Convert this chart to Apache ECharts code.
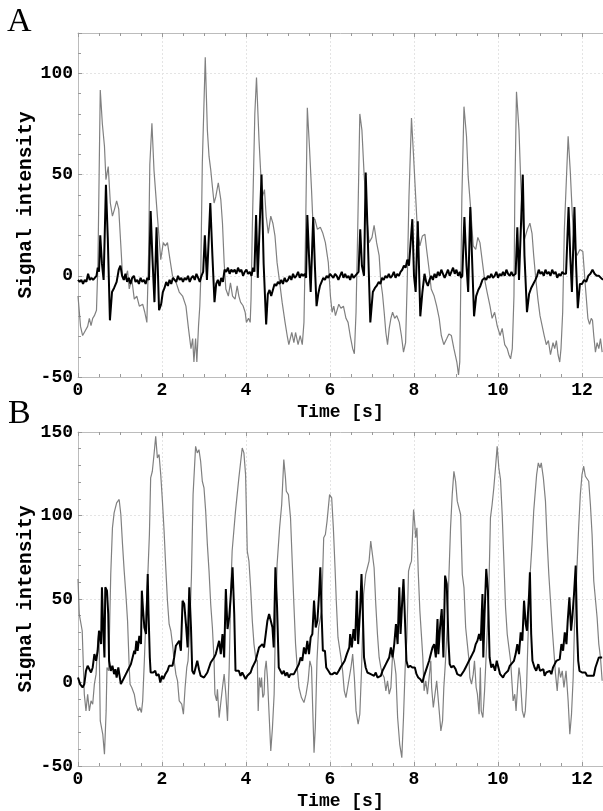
<!DOCTYPE html>
<html>
<head>
<meta charset="utf-8">
<script src="https://cdn.jsdelivr.net/npm/echarts@6/dist/echarts.min.js"></script>
<style>
html,body{margin:0;padding:0;background:#fff;}
#c{width:603px;height:811px;}
</style>
</head>
<body>
<div id="c"></div>
<script>
// Panel A, gray trace [time s, signal]
const panelAGray = [[0,-10],[0.06,-25],[0.11,-29.5],[0.15,-28],[0.19,-28.7],[0.23,-25],[0.27,-21],[0.31,-24.6],[0.35,-21],[0.39,-19.7],[0.44,-17],[0.475,6.5],[0.53,91.8],[0.58,75],[0.63,64],[0.665,47.5],[0.72,54],[0.77,36],[0.82,29.5],[0.87,33],[0.92,37],[0.97,33],[1.02,15],[1.06,0],[1.12,-2],[1.18,2.5],[1.22,-6.5],[1.28,-1.5],[1.34,-11.5],[1.40,-10],[1.46,-15],[1.54,-14],[1.59,-18],[1.64,-23],[1.68,10],[1.71,55],[1.76,75.4],[1.81,52],[1.89,29.5],[1.97,8],[2.03,16.4],[2.08,14.8],[2.13,16.4],[2.19,8],[2.25,0],[2.33,-3],[2.41,-8],[2.49,-10],[2.57,-15],[2.63,-26],[2.69,-36],[2.73,-31],[2.76,-42.6],[2.80,-31],[2.83,-42.6],[2.87,-24.6],[2.9,-15],[2.92,-3],[2.96,55.7],[3.03,108],[3.08,72],[3.12,59],[3.16,52.5],[3.20,44],[3.24,36],[3.28,39],[3.34,46],[3.40,37.7],[3.44,26],[3.48,6.5],[3.52,-6.5],[3.58,-10],[3.63,-3.5],[3.68,-10],[3.74,-11.5],[3.79,-5],[3.83,-10],[3.87,-13],[3.93,-14.8],[3.98,-18],[4.01,-23],[4.06,-21],[4.10,-23],[4.12,-11.5],[4.15,23],[4.21,80],[4.25,98],[4.31,67],[4.35,51],[4.39,39],[4.44,42.6],[4.48,29.5],[4.53,21],[4.59,29.5],[4.64,26],[4.69,19.7],[4.74,6.5],[4.80,-3],[4.86,-13],[4.93,-23],[4.98,-29.5],[5.02,-34],[5.09,-28],[5.14,-33],[5.18,-28],[5.24,-34],[5.29,-29.5],[5.34,-34],[5.38,-23],[5.42,23],[5.46,83],[5.51,64],[5.56,42.6],[5.59,28],[5.64,28],[5.70,23],[5.77,24],[5.83,21],[5.89,16.4],[5.96,6.5],[6.01,-10],[6.05,-18],[6.09,-15],[6.13,-19.7],[6.21,-14],[6.26,-16],[6.32,-15],[6.38,-21],[6.43,-23],[6.48,-29.5],[6.54,-36],[6.58,-38.5],[6.62,-18],[6.66,23],[6.71,80],[6.76,72],[6.81,51],[6.88,28],[6.93,16.4],[7.0,19],[7.05,25],[7.11,16.4],[7.17,10],[7.21,-3],[7.25,-9],[7.29,-18],[7.33,-28],[7.37,-34],[7.41,-26],[7.45,-21],[7.49,-18],[7.54,-21],[7.59,-19.7],[7.65,-23],[7.70,-29.5],[7.75,-37.7],[7.80,-33],[7.84,-1.6],[7.88,39],[7.94,78],[7.99,59],[8.04,39],[8.08,23],[8.14,14.8],[8.20,19.7],[8.26,20.5],[8.30,13],[8.36,3],[8.41,-6.5],[8.48,-10],[8.54,-15],[8.60,-21],[8.65,-29.5],[8.71,-34],[8.78,-31],[8.83,-28.7],[8.89,-29.5],[8.95,-36],[9.02,-42.6],[9.06,-49],[9.09,-42.6],[9.11,-10],[9.14,39],[9.19,83.6],[9.25,69],[9.29,49],[9.35,33],[9.41,14.8],[9.47,13],[9.52,19],[9.57,16.4],[9.63,6.5],[9.68,-1.6],[9.74,-8],[9.81,-15],[9.86,-21],[9.92,-18],[9.98,-24.6],[10.05,-29.5],[10.1,-26],[10.16,-34],[10.22,-36],[10.26,-39],[10.3,-41],[10.34,-36],[10.38,-10],[10.40,39],[10.44,91],[10.5,72],[10.54,47.5],[10.58,29.5],[10.63,18],[10.7,23],[10.76,26],[10.81,21],[10.85,10],[10.9,-1.6],[10.95,-11.5],[11.0,-19.7],[11.05,-24.6],[11.1,-29.5],[11.15,-34],[11.2,-32],[11.25,-39],[11.31,-33],[11.35,-36],[11.39,-32],[11.43,-39],[11.47,-42.6],[11.5,-36],[11.54,-18],[11.58,23],[11.67,69],[11.72,52],[11.77,30],[11.82,14],[11.88,10],[11.95,13],[12.02,12],[12.08,-5],[12.14,-21],[12.18,-24],[12.22,-21],[12.25,-22],[12.28,-29.5],[12.32,-37.7],[12.36,-33],[12.4,-36],[12.44,-31],[12.48,-37.7]];

// Panel A, black trace
const panelABlack = [[0,-2],[0.04,-3],[0.08,-2],[0.12,-4],[0.16,-2],[0.2,-3],[0.24,1],[0.28,-2],[0.32,-1],[0.36,-2],[0.4,-1],[0.44,0],[0.47,4],[0.5,2],[0.53,20],[0.57,6],[0.61,-2],[0.665,45],[0.71,18],[0.76,-22],[0.81,-8],[0.86,-6],[0.92,-3],[0.97,3],[1.01,5],[1.05,0],[1.09,-2],[1.13,1],[1.17,-3],[1.21,-1],[1.25,-4],[1.29,-1],[1.33,0],[1.37,-3],[1.41,-2],[1.45,-4],[1.49,-1],[1.53,-3],[1.57,-2],[1.61,-4],[1.65,-1],[1.69,-2],[1.73,32],[1.77,10],[1.82,-13],[1.87,24],[1.93,-17],[1.98,-14],[2.02,-8],[2.06,-6],[2.1,-3],[2.14,-5],[2.18,-2],[2.22,-4],[2.26,-1],[2.3,-2],[2.34,-3],[2.38,0],[2.42,-2],[2.46,-1],[2.5,-3],[2.54,-1],[2.58,-2],[2.62,0],[2.66,-3],[2.7,-1],[2.74,0],[2.78,-2],[2.82,1],[2.86,-1],[2.9,-3],[2.94,0],[2.98,2],[3.02,20],[3.07,-2],[3.15,36],[3.2,10],[3.25,-13],[3.29,-4],[3.33,-2],[3.37,-5],[3.41,-1],[3.45,-3],[3.49,3],[3.53,2],[3.57,4],[3.61,1],[3.65,3],[3.69,2],[3.73,3],[3.77,1],[3.81,4],[3.85,2],[3.89,3],[3.93,0],[3.97,2],[4.01,3],[4.05,1],[4.09,2],[4.13,0],[4.17,4],[4.2,2],[4.24,30],[4.28,-1],[4.37,50],[4.42,6],[4.48,-24],[4.52,-9],[4.56,-7],[4.6,-10],[4.64,-7],[4.68,-4],[4.72,-5],[4.76,-3],[4.8,-4],[4.84,-2],[4.88,-4],[4.92,-1],[4.96,-3],[5.0,-2],[5.04,0],[5.08,-2],[5.12,1],[5.16,-1],[5.2,0],[5.24,2],[5.28,-1],[5.32,1],[5.36,0],[5.4,1],[5.43,-1],[5.46,30],[5.5,10],[5.54,-8],[5.6,29],[5.64,5],[5.68,-15],[5.72,-9],[5.76,-5],[5.8,-3],[5.84,-1],[5.88,-2],[5.92,0],[5.96,-1],[6.0,1],[6.04,0],[6.08,-1],[6.12,1],[6.16,0],[6.2,-2],[6.24,0],[6.28,2],[6.32,-1],[6.36,1],[6.4,-1],[6.44,0],[6.48,-2],[6.52,1],[6.56,-1],[6.6,0],[6.64,1],[6.68,2],[6.72,23],[6.76,5],[6.81,0],[6.85,51],[6.89,25],[6.96,-23],[7.02,-8],[7.07,-6],[7.11,-5],[7.16,-3],[7.2,-4],[7.24,-1],[7.28,-2],[7.32,0],[7.36,-1],[7.4,1],[7.44,-1],[7.48,0],[7.52,2],[7.56,-1],[7.6,1],[7.64,0],[7.68,2],[7.72,3],[7.76,5],[7.8,4],[7.84,8],[7.88,5],[7.96,28],[8.0,0],[8.04,-8],[8.09,27],[8.15,-20],[8.2,-8],[8.25,1],[8.29,-3],[8.33,-5],[8.37,-2],[8.41,0],[8.45,-2],[8.49,1],[8.53,-1],[8.57,2],[8.61,0],[8.65,3],[8.69,1],[8.73,-1],[8.77,1],[8.81,3],[8.85,0],[8.89,2],[8.93,4],[8.97,1],[9.01,3],[9.05,0],[9.09,2],[9.12,-1],[9.15,0],[9.2,29],[9.25,5],[9.29,-8],[9.34,34],[9.38,10],[9.43,-20],[9.48,-10],[9.53,-7],[9.58,-5],[9.63,-2],[9.68,-1],[9.72,-2],[9.76,0],[9.8,-1],[9.84,1],[9.88,-1],[9.92,0],[9.96,2],[10.0,-1],[10.04,1],[10.08,0],[10.12,2],[10.16,0],[10.2,3],[10.24,1],[10.28,0],[10.32,2],[10.36,0],[10.42,1],[10.46,24],[10.5,-2],[10.59,50],[10.63,10],[10.69,-18],[10.74,-9],[10.79,-6],[10.84,-4],[10.89,-2],[10.93,0],[10.97,3],[11.01,1],[11.05,2],[11.09,0],[11.13,3],[11.17,1],[11.21,2],[11.25,0],[11.29,3],[11.33,1],[11.37,2],[11.41,-1],[11.45,1],[11.49,0],[11.53,2],[11.57,1],[11.62,1],[11.68,34],[11.72,10],[11.76,-8],[11.82,34],[11.86,5],[11.9,-16],[11.95,-4],[12.0,-4],[12.05,-2],[12.1,-3],[12.15,0],[12.2,1],[12.25,3],[12.3,1],[12.35,0],[12.4,0],[12.45,-1],[12.5,-2]];

// Panel B, gray trace
const panelBGray = [[0,62],[0.03,41],[0.1,31],[0.15,-7],[0.19,-17],[0.23,-7],[0.27,-17],[0.31,-11],[0.35,-13],[0.39,-1],[0.43,5],[0.47,25],[0.5,31],[0.53,-23],[0.59,-31],[0.63,-43],[0.67,-17],[0.69,9],[0.73,7],[0.78,65],[0.82,92.6],[0.86,101.6],[0.92,107.6],[0.98,109.6],[1.02,100.6],[1.06,82.7],[1.1,66.7],[1.14,52.8],[1.18,36.9],[1.22,9],[1.24,-1],[1.28,-3],[1.34,-7],[1.38,-13],[1.43,-17],[1.47,-15],[1.51,-18],[1.54,-11],[1.58,13],[1.62,41],[1.66,62.7],[1.7,88.6],[1.73,122.5],[1.77,126.5],[1.81,136.5],[1.85,147.4],[1.89,134.5],[1.93,136.5],[1.97,124.5],[2.01,108.6],[2.05,90.6],[2.09,68.7],[2.13,48.8],[2.17,34.9],[2.21,31],[2.25,23],[2.29,13],[2.33,5],[2.37,1],[2.41,-11],[2.47,-13],[2.51,-19],[2.55,-3],[2.59,9],[2.62,13],[2.66,33],[2.7,62.7],[2.74,112.5],[2.8,141.4],[2.84,137.5],[2.88,139.4],[2.92,132.5],[2.96,120.5],[3.0,116.5],[3.04,102.6],[3.08,82.7],[3.12,66.7],[3.16,46.8],[3.2,32.9],[3.24,13],[3.26,-7],[3.3,-11],[3.32,-4],[3.36,-21],[3.4,-21],[3.44,-3],[3.48,5],[3.52,-7],[3.56,-23],[3.6,9],[3.64,56.8],[3.67,78.7],[3.75,102.6],[3.83,122.5],[3.91,140.4],[3.95,137.5],[3.99,124.5],[4.03,78.7],[4.07,72.7],[4.11,56.8],[4.15,36.9],[4.19,23],[4.23,15],[4.27,13],[4.29,-17],[4.32,3],[4.35,-3],[4.37,3],[4.4,-9],[4.43,-7],[4.45,7],[4.48,13],[4.51,3],[4.55,-19],[4.59,-41],[4.63,-27],[4.67,-7],[4.7,33],[4.74,70.7],[4.8,92.6],[4.85,106.6],[4.9,133.5],[4.94,122.5],[4.96,114.5],[5.01,112.5],[5.06,98.6],[5.1,72.7],[5.14,46.8],[5.18,23],[5.22,9],[5.26,-3],[5.32,-9],[5.38,-12],[5.43,-7],[5.48,1],[5.52,13],[5.56,9],[5.59,-17],[5.62,-42],[5.65,-27],[5.69,13],[5.73,33],[5.8,42.8],[5.85,86.7],[5.89,88.6],[5.93,96.6],[5.99,112.5],[6.04,110.6],[6.08,92.6],[6.12,68.7],[6.15,48.8],[6.19,27],[6.26,15],[6.3,7],[6.34,-5],[6.38,-9],[6.42,-3],[6.46,-3],[6.5,9],[6.54,17],[6.58,3],[6.62,-17],[6.67,-25],[6.71,-19],[6.75,7],[6.8,52.8],[6.85,64.7],[6.89,68.7],[6.93,72.7],[6.97,84.7],[7.01,83.7],[7.05,68.7],[7.09,46.8],[7.13,28.9],[7.17,15],[7.21,9],[7.25,5],[7.29,3],[7.33,-5],[7.37,1],[7.41,-7],[7.45,-3],[7.49,17],[7.53,13],[7.57,5],[7.61,-21],[7.66,-37],[7.71,-45],[7.75,-21],[7.79,9],[7.83,27],[7.87,66.7],[7.91,70.7],[7.94,72.7],[7.99,103.6],[8.02,94.6],[8.04,86.7],[8.07,92.6],[8.1,66.7],[8.14,42.8],[8.18,27],[8.21,15],[8.24,-5],[8.28,1],[8.32,-7],[8.36,3],[8.4,13],[8.42,-3],[8.46,-15],[8.5,-7],[8.54,1],[8.6,-17],[8.64,-29],[8.68,-23],[8.71,-3],[8.75,13],[8.79,33],[8.83,62.7],[8.87,92.6],[8.91,112.5],[8.95,126.5],[8.99,120.5],[9.03,108.6],[9.07,104.6],[9.11,100.6],[9.15,64.7],[9.19,56.8],[9.23,32.9],[9.27,23],[9.31,13],[9.33,3],[9.37,-1],[9.41,5],[9.44,13],[9.48,-3],[9.51,-7],[9.55,-19],[9.58,9],[9.6,-17],[9.64,-21],[9.68,-5],[9.73,23],[9.78,52.8],[9.82,98.6],[9.86,106.6],[9.9,116.5],[9.94,128.5],[9.98,141.4],[10.02,128.5],[10.06,121.5],[10.1,100.6],[10.14,72.7],[10.18,44.8],[10.22,28.9],[10.26,20.9],[10.3,13],[10.34,-3],[10.36,-11],[10.4,-7],[10.43,-17],[10.47,-1],[10.5,9],[10.53,3],[10.58,-17],[10.62,-21],[10.65,-17],[10.68,-3],[10.71,23],[10.76,62.7],[10.81,82.7],[10.85,102.6],[10.92,124.5],[10.96,131.5],[11.0,128.5],[11.03,131.5],[11.08,122.5],[11.13,108.6],[11.17,84.7],[11.21,64.7],[11.25,48.8],[11.29,32.9],[11.33,18.9],[11.37,5],[11.41,-5],[11.45,9],[11.49,3],[11.53,7],[11.57,-3],[11.62,7],[11.67,-11],[11.71,-31],[11.75,-19],[11.79,3],[11.82,33],[11.87,62.7],[11.92,92.6],[11.96,112.5],[12.0,124.5],[12.04,129.5],[12.08,123.5],[12.12,123.5],[12.16,120.5],[12.2,106.6],[12.24,88.6],[12.28,60.8],[12.32,61.8],[12.36,38.8],[12.4,23],[12.44,15],[12.48,1]];

// Panel B, black trace
const panelBBlack = [[0,3],[0.05,-1],[0.11,-3],[0.15,-1],[0.19,7],[0.23,10],[0.27,9],[0.31,6],[0.35,9],[0.39,17],[0.43,13],[0.47,19],[0.5,31],[0.55,23],[0.57,57],[0.6,33],[0.63,15],[0.65,57],[0.69,55],[0.72,41],[0.74,13],[0.78,7],[0.82,10],[0.86,5],[0.89,8],[0.92,3],[0.96,9],[0.99,4],[1.02,-1],[1.06,1],[1.1,3],[1.14,5],[1.18,7],[1.22,9],[1.26,11],[1.3,15],[1.34,19],[1.36,17],[1.39,25],[1.42,19],[1.46,28],[1.5,23],[1.52,55],[1.55,43],[1.58,33],[1.62,29],[1.66,65],[1.68,41],[1.71,15],[1.73,6],[1.79,6],[1.84,7],[1.87,4],[1.92,5],[1.96,0],[2.0,4],[2.03,2],[2.08,5],[2.13,7],[2.17,10],[2.21,9],[2.25,10],[2.29,15],[2.33,22],[2.37,21],[2.41,25],[2.45,19],[2.49,49],[2.53,47],[2.57,35],[2.61,21],[2.65,57],[2.69,33],[2.72,7],[2.76,5],[2.8,6],[2.84,13],[2.88,8],[2.92,4],[2.96,3],[3.0,3],[3.04,4],[3.08,6],[3.12,9],[3.16,12],[3.2,13],[3.24,15],[3.28,17],[3.32,21],[3.36,25],[3.4,17],[3.44,29],[3.48,15],[3.52,56],[3.56,32],[3.6,39],[3.64,53],[3.68,69],[3.72,41],[3.75,7],[3.79,7],[3.83,7],[3.87,4],[3.91,6],[3.95,4],[3.99,2],[4.03,4],[4.07,5],[4.11,6],[4.15,9],[4.19,11],[4.23,13],[4.27,17],[4.31,21],[4.35,22],[4.39,23],[4.43,21],[4.47,29],[4.51,37],[4.55,41],[4.59,42],[4.63,33],[4.66,21],[4.7,69],[4.74,45],[4.78,9],[4.82,7],[4.86,5],[4.9,7],[4.94,4],[4.98,6],[5.02,3],[5.06,5],[5.1,4],[5.14,5],[5.18,6],[5.22,9],[5.26,11],[5.3,15],[5.34,13],[5.38,21],[5.42,17],[5.46,25],[5.5,17],[5.54,27],[5.58,29],[5.62,49],[5.66,33],[5.7,37],[5.74,53],[5.77,69],[5.8,41],[5.83,19],[5.88,19],[5.91,9],[5.96,7],[6.01,5],[6.06,5],[6.11,6],[6.16,5],[6.21,7],[6.25,9],[6.3,11],[6.35,13],[6.4,17],[6.46,21],[6.48,29],[6.52,21],[6.56,32],[6.6,25],[6.64,55],[6.67,23],[6.72,45],[6.75,65],[6.78,43],[6.81,15],[6.85,9],[6.89,6],[6.93,7],[6.97,5],[7.01,6],[7.05,4],[7.09,6],[7.13,3],[7.17,4],[7.21,4],[7.25,7],[7.29,9],[7.33,11],[7.37,13],[7.41,15],[7.45,21],[7.49,15],[7.53,23],[7.57,35],[7.61,23],[7.65,57],[7.68,29],[7.72,49],[7.75,62],[7.78,61],[7.82,13],[7.86,9],[7.91,10],[7.96,9],[8.02,9],[8.06,5],[8.1,3],[8.15,2],[8.2,0],[8.24,4],[8.28,7],[8.32,7],[8.36,13],[8.4,17],[8.44,21],[8.48,23],[8.52,15],[8.56,38],[8.58,17],[8.62,33],[8.66,44],[8.7,15],[8.74,64],[8.78,59],[8.82,25],[8.85,11],[8.89,9],[8.94,10],[8.99,8],[9.03,5],[9.07,6],[9.11,4],[9.15,5],[9.19,7],[9.23,9],[9.27,11],[9.31,13],[9.35,15],[9.39,17],[9.43,19],[9.47,23],[9.51,25],[9.55,29],[9.59,25],[9.63,53],[9.65,15],[9.68,41],[9.72,68],[9.76,55],[9.8,15],[9.84,9],[9.88,11],[9.93,7],[9.97,13],[10.01,9],[10.05,5],[10.09,4],[10.12,3],[10.16,5],[10.2,6],[10.24,7],[10.28,10],[10.32,11],[10.38,13],[10.42,17],[10.46,23],[10.5,17],[10.54,30],[10.58,25],[10.62,49],[10.66,35],[10.69,31],[10.74,53],[10.76,66],[10.79,29],[10.82,13],[10.87,9],[10.91,7],[10.96,11],[11.0,7],[11.04,6],[11.08,8],[11.11,4],[11.15,6],[11.19,5],[11.23,7],[11.27,5],[11.31,9],[11.35,11],[11.39,13],[11.43,13],[11.47,14],[11.51,23],[11.55,19],[11.59,30],[11.63,23],[11.66,37],[11.7,51],[11.74,31],[11.77,39],[11.81,53],[11.85,70],[11.88,33],[11.91,13],[11.94,7],[12.0,6],[12.04,5],[12.08,6],[12.12,4],[12.16,5],[12.2,4],[12.24,5],[12.28,4],[12.32,9],[12.36,12],[12.4,15],[12.44,16],[12.48,15]];

const xTicksInterval = 2;
const yTicksA = { min: -50, max: 120, interval: 50, showMax: false };
const yTicksB = { min: -50, max: 150, interval: 50, showMax: true };
const panelLabels = ['A', 'B'];
const xName = 'Time [s]';
const yName = 'Signal intensity';

const FONT = "'Liberation Mono', 'DejaVu Sans Mono', monospace";
const labelStyle = { color: '#000', fontFamily: FONT, fontWeight: 'bold', fontSize: 18 };
const yNameStyle = { color: '#000', fontFamily: FONT, fontWeight: 'bold', fontSize: 19.5 };
const lineGray = '#bcbcbc';

function xAxisDef(gridIndex, top) {
  return {
    type: 'value', gridIndex: gridIndex, min: 0, max: 12.5, interval: xTicksInterval,
    position: top ? 'top' : 'bottom',
    name: top ? '' : xName, nameLocation: 'middle', nameGap: 26, nameMoveOverlap: false,
    nameTextStyle: labelStyle,
    axisLine: { show: true, onZero: false, lineStyle: { color: lineGray, width: 1 } },
    axisTick: { show: true, inside: true, length: 4, lineStyle: { color: '#999' } },
    minorTick: { show: true, splitNumber: 4, length: 3, lineStyle: { color: '#999' } },
    axisLabel: top ? { show: false } : Object.assign({ margin: 4, showMaxLabel: false }, labelStyle),
    splitLine: { show: !top, lineStyle: { color: '#e4e4e4', type: [2, 2], width: 1 } },
    minorSplitLine: { show: false }
  };
}
function yAxisDef(gridIndex, t) {
  return {
    type: 'value', gridIndex: gridIndex, min: t.min, max: t.max, interval: t.interval,
    name: yName, nameLocation: 'middle', nameGap: 42, nameMoveOverlap: false, nameTextStyle: yNameStyle,
    axisLine: { show: true, lineStyle: { color: lineGray, width: 1 } },
    axisTick: { show: true, inside: true, length: 4, lineStyle: { color: '#999' } },
    minorTick: { show: true, splitNumber: 5, length: 3, lineStyle: { color: '#999' } },
    axisLabel: Object.assign({ margin: 5, showMaxLabel: t.showMax }, labelStyle),
    splitLine: { show: true, lineStyle: { color: '#e4e4e4', type: [2, 2], width: 1 } }
  };
}

const chart = echarts.init(document.getElementById('c'), null, { renderer: 'canvas' });
chart.setOption({
  animation: false,
  backgroundColor: '#fff',
  grid: [
    { left: 78, top: 33, width: 525, height: 344, containLabel: false },
    { left: 78, top: 432, width: 525, height: 335, containLabel: false }
  ],
  xAxis: [xAxisDef(0, false), xAxisDef(0, true), xAxisDef(1, false), xAxisDef(1, true)],
  yAxis: [yAxisDef(0, yTicksA), yAxisDef(1, yTicksB)],
  graphic: [
    { type: 'text', left: 7, top: 5, style: { text: panelLabels[0], font: "34px 'Liberation Serif'", fill: '#000' } },
    { type: 'text', left: 8, top: 397, style: { text: panelLabels[1], font: "34px 'Liberation Serif'", fill: '#000' } }
  ],
  series: [
    { type: 'line', xAxisIndex: 0, yAxisIndex: 0, data: panelAGray, showSymbol: false, symbol: 'none',
      lineStyle: { color: '#808080', width: 1.2 }, z: 2 },
    { type: 'line', xAxisIndex: 0, yAxisIndex: 0, data: panelABlack, showSymbol: false, symbol: 'none',
      lineStyle: { color: '#000', width: 2 }, z: 3 },
    { type: 'line', xAxisIndex: 2, yAxisIndex: 1, data: panelBGray, showSymbol: false, symbol: 'none',
      lineStyle: { color: '#808080', width: 1.2 }, z: 2 },
    { type: 'line', xAxisIndex: 2, yAxisIndex: 1, data: panelBBlack, showSymbol: false, symbol: 'none',
      lineStyle: { color: '#000', width: 2 }, z: 3 }
  ]
});
</script>
</body>
</html>
